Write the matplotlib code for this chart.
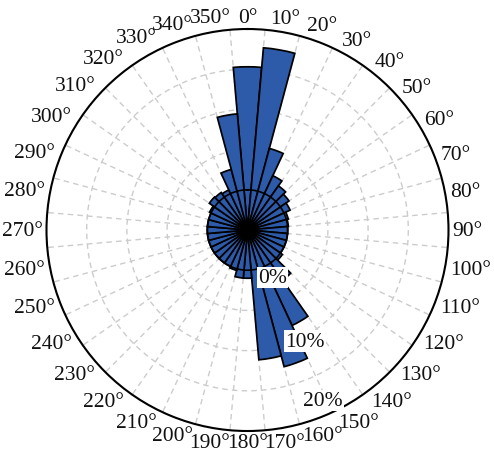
import numpy as np
import matplotlib
matplotlib.use('Agg')
import matplotlib.pyplot as plt
from matplotlib.transforms import offset_copy

# ---- data ----
directions = list(range(0, 360, 10))          # bin centres (deg)
percent = [15.3, 17.75, 5.5, 2.45, 1.7, 1.3, 0.85, 0.25, 0.1, 0.0,
           0.0, 0.0, 0.0, 0.3, 2.6, 8.1, 12.6, 11.2, 1.0, 1.0,
           0.2, 0.0, 0.0, 0.0, 0.0, 0.0, 0.0, 0.0, 0.0, 0.0,
           0.2, 0.8, 0.7, 0.5, 2.8, 9.5]
angle_labels = [f'{d}°' for d in directions]
radial_labels = ['0%', '10%', '20%']

# ---- layout / style ----
BLUE = '#2d5aa9'
FONT = 'Liberation Serif'
RMIN, RMAX = -5, 20
pct_label_pos = [(152.1, 1.69), (152.5, 10.6), (156.2, 18.2)]  # (deg, r) text anchors

fig = plt.figure(figsize=(4.94, 4.56), dpi=100)
ax = fig.add_axes([0.0941, 0.0526, 0.8138, 0.8816], projection='polar')
ax.set_theta_zero_location('N')
ax.set_theta_direction(-1)
ax.set_rlim(RMIN, RMAX)

theta = np.deg2rad(directions)
vals = np.array(percent)
ax.bar(theta, vals - RMIN, bottom=RMIN, width=np.deg2rad(10), align='center',
       color=BLUE, edgecolor='black', linewidth=1.25, zorder=3)

# zero circle on top of bars
tt = np.linspace(0, 2 * np.pi, 721)
ax.plot(tt, np.zeros_like(tt), color='black', lw=1.2, zorder=4)

# grids
ax.set_xticks(np.deg2rad(np.arange(5, 360, 10)))
ax.set_xticklabels([])
ax.set_yticks([0, 5, 10, 15])
ax.set_yticklabels([])
ax.tick_params(length=0)
ax.set_axisbelow(True)
ax.grid(True, color='#cccccc', linestyle=(0, (4, 3)), linewidth=1.0)
ax.spines['polar'].set_linewidth(1.5)
ax.spines['polar'].set_color('black')

# angle labels
texts = []
for d, lab in zip(directions, angle_labels):
    t = ax.text(np.deg2rad(d), RMAX, lab, ha='center', va='center',
                fontsize=15.5, family=FONT, color='#111111')
    texts.append((d, t))

fig.canvas.draw()
r = fig.canvas.get_renderer()
gap = 4.0
for d, t in texts:
    bb = t.get_window_extent(r)
    w, h = bb.width, bb.height * 0.8
    ux, uy = np.sin(np.deg2rad(d)), np.cos(np.deg2rad(d))
    dist = gap + (w / 2) * abs(ux) + (h / 2) * abs(uy)
    t.set_transform(offset_copy(ax.transData, fig=fig, x=dist * ux, y=dist * uy, units='dots'))

# radial labels
for lab, (deg, rr) in zip(radial_labels, pct_label_pos):
    ax.text(np.deg2rad(deg), rr, lab, ha='center', va='center', fontsize=15.5,
            family=FONT, color='#111111', zorder=6,
            bbox=dict(facecolor='white', edgecolor='none', pad=1.0))

fig.savefig('out.png', dpi=100)
